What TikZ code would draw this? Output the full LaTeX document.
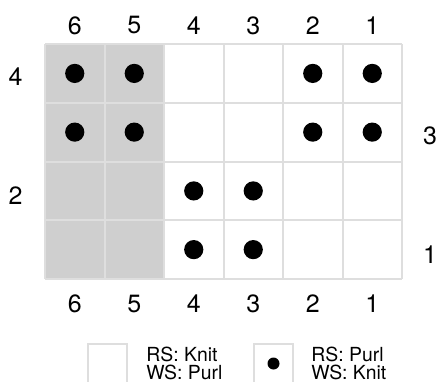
\documentclass[tikz,border=0pt]{standalone}
\usepackage{fontspec}
\setmainfont{TeX Gyre Heros}
\usepackage{tikz}
\definecolor{cellgray}{HTML}{CFCFCF}
\definecolor{gridline}{HTML}{DEDEDE}

\tikzset{
    stitch/.style={circle,fill=black,inner sep=0pt,minimum size=9.6pt},
    numlabel/.style={inner sep=0pt,font=\fontsize{12.5}{13}\selectfont},
    keytext/.style={inner sep=0pt,anchor=base west,font=\fontsize{9.7}{10}\selectfont},
    keybox/.style={draw=gridline,line width=0.8pt,minimum size=19.5pt,inner sep=0pt}
}

\begin{document}
\begin{tikzpicture}[x=0.5pt,y=-0.5pt]
    \useasboundingbox (0,0) rectangle (439,381);

    % shaded columns 6 and 5
    \fill[cellgray] (45,44) rectangle (164,279);
    \foreach \i in {0,...,6}
        \draw[gridline,line width=1pt] ({45+\i*59.5},44) -- ({45+\i*59.5},279);
    \foreach \j in {0,...,4}
        \draw[gridline,line width=1pt] (45,{44+\j*58.75}) -- (402,{44+\j*58.75});

    % column numbers
    \foreach \c in {1,...,6} {
        \node[numlabel] (top\c) at ({45+(6.5-\c)*59.5},25.5) {\c};
        \node[numlabel] (bot\c) at ({45+(6.5-\c)*59.5},304) {\c};
    }

    % row numbers
    \node[numlabel] (row4) at (15.5,77) {4};
    \node[numlabel] (row3) at (430,136) {3};
    \node[numlabel] (row2) at (15.5,196) {2};
    \node[numlabel] (row1) at (430,255) {1};

    % purl stitches
    \node[stitch] (a6) at (74.75,73.4) {};
    \node[stitch] (a5) at (134.25,73.4) {};
    \node[stitch] (a2) at (312.75,73.4) {};
    \node[stitch] (a1) at (372.25,73.4) {};
    \node[stitch] (b6) at (74.75,132.1) {};
    \node[stitch] (b5) at (134.25,132.1) {};
    \node[stitch] (b2) at (312.75,132.1) {};
    \node[stitch] (b1) at (372.25,132.1) {};
    \node[stitch] (c4) at (193.75,190.9) {};
    \node[stitch] (c3) at (253.25,190.9) {};
    \node[stitch] (d4) at (193.75,249.6) {};
    \node[stitch] (d3) at (253.25,249.6) {};

    % key
    \node[keybox] (knitkey) at (107.5,363.5) {};
    \node[keytext] (rsknit) at (146,361.5) {RS: Knit};
    \node[keytext] (wspurl) at (146,379.5) {WS: Purl};

    \node[keybox] (purlkey) at (273.5,363.5) {};
    \node[stitch,minimum size=6pt] (purldot) at (purlkey.center) {};
    \node[keytext] (rspurl) at (311,361.5) {RS: Purl};
    \node[keytext] (wsknit) at (311,379.5) {WS: Knit};
\end{tikzpicture}
\end{document}
